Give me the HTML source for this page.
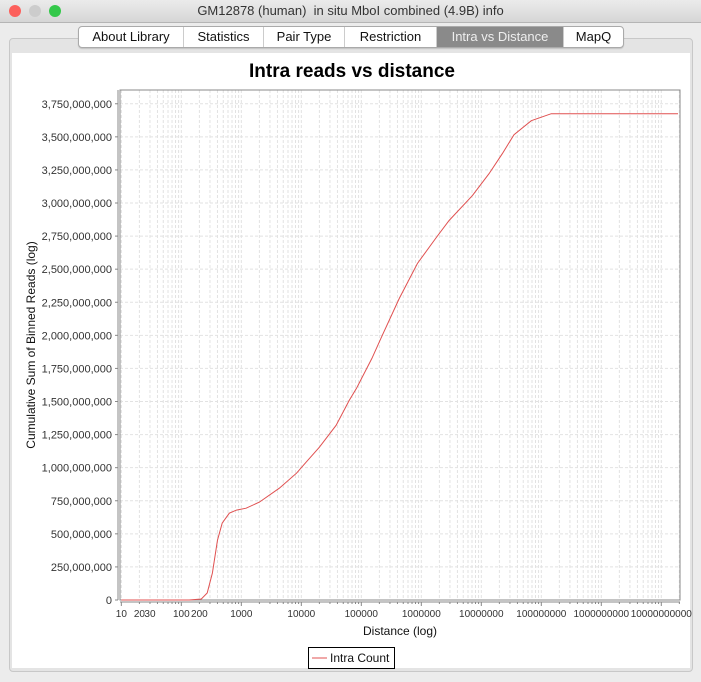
<!DOCTYPE html>
<html><head><meta charset="utf-8">
<style>
body{margin:0;width:701px;height:682px;background:#ececec;font-family:"Liberation Sans",sans-serif;position:relative;overflow:hidden}
.titlebar{position:absolute;left:0;top:0;width:701px;height:22px;background:linear-gradient(#ebebeb,#d6d6d6);border-bottom:1px solid #b5b5b5;text-align:center;font-size:13px;line-height:22px;color:#333}
.dot{position:absolute;top:5px;width:12px;height:12px;border-radius:50%}
.panel{position:absolute;left:9px;top:38px;width:682px;height:632px;border:1px solid #c8c8c8;border-radius:4px;background:#e4e4e4}
.white{position:absolute;left:12px;top:53px;width:678px;height:615px;background:#fff}
.tabs{position:absolute;left:78px;top:26px;height:20px;width:544px;display:flex;border:1px solid #aaa;border-radius:4px;background:#fff;font-size:13px;box-shadow:0 1px 1px rgba(0,0,0,.15)}
.tab{flex:none;text-align:center;line-height:20px;border-right:1px solid #ccc;color:#111;box-sizing:border-box}
.tab.sel{background:#8a8a8a;color:#eee}
</style></head><body>
<div class="titlebar">GM12878 (human)&nbsp; in situ MboI combined (4.9B) info</div>
<div class="dot" style="left:9px;background:#fc605c"></div>
<div class="dot" style="left:29px;background:#ccc"></div>
<div class="dot" style="left:49px;background:#34c84a"></div>
<div class="panel"></div>
<div class="white"></div>
<div class="tabs">
<div class="tab" style="width:105px">About Library</div>
<div class="tab" style="width:80px">Statistics</div>
<div class="tab" style="width:81px">Pair Type</div>
<div class="tab" style="width:92px">Restriction</div>
<div class="tab sel" style="width:127px">Intra vs Distance</div>
<div class="tab" style="border-right:none;flex:auto">MapQ</div>
</div>
<svg id="chart" width="701" height="682" style="position:absolute;left:0;top:0"></svg>
<script>
const distances=[10,135,215,270,330,400,480,630,830,1200,2000,4300,8300,12000,20000,38000,63000,83000,150000,224000,430000,860000,1780000,2900000,7100000,13500000,22400000,35000000,68000000,147000000,19000000000];
const reads=[0,0,7.5e6,53e6,204e6,453e6,581e6,656e6,679e6,694e6,740e6,845e6,958e6,1041e6,1155e6,1320e6,1509e6,1600e6,1826e6,2000e6,2279e6,2543e6,2739e6,2868e6,3056e6,3222e6,3373e6,3516e6,3622e6,3675e6,3675e6];
const xTickValues=[10,20,30,100,200,1000,10000,100000,1000000,10000000,100000000,1000000000,10000000000];
const yTickValues=[0,250e6,500e6,750e6,1000e6,1250e6,1500e6,1750e6,2000e6,2250e6,2500e6,2750e6,3000e6,3250e6,3500e6,3750e6];
const svg=document.getElementById('chart');const NS='http://www.w3.org/2000/svg';
const L=120,R=680,T=90,B=600;
const lx0=Math.log10(9.5),lx1=Math.log10(2.05e10);
const X=v=>L+(Math.log10(v)-lx0)/(lx1-lx0)*(R-L);
const Y=v=>B-v/3.854e9*(B-T);
function mk(tag,a,txt){const e=document.createElementNS(NS,tag);for(const k in a)e.setAttribute(k,a[k]);if(txt!=null)e.textContent=txt;svg.appendChild(e);return e;}
let e;
e=mk('text',{x:352,y:77,'text-anchor':'middle','font-size':19,'font-weight':'bold',fill:'#000'},'Intra reads vs distance');


for(let d=1;d<=10;d++){for(let m=1;m<=9;m++){const v=m*Math.pow(10,d);if(v<10||v>2.05e10)continue;const x=X(v);
e=mk('line',{x1:x,x2:x,y1:T,y2:B,stroke:'#e2e2e2','stroke-dasharray':'3,2','stroke-width':1});


e=mk('line',{x1:x,x2:x,y1:B+2,y2:B+(m==1?6:4),stroke:'#888'});

}}
yTickValues.forEach(v=>{const y=Y(v);
e=mk('line',{x1:L,x2:R,y1:y,y2:y,stroke:'#e2e2e2','stroke-dasharray':'3,2'});


e=mk('line',{x1:L-5,x2:L-2,y1:y,y2:y,stroke:'#888'});


e=mk('text',{x:L-8,y:y+4,'text-anchor':'end','font-size':11,fill:'#333'},v.toLocaleString('en-US'));

});
xTickValues.forEach(v=>{
e=mk('text',{x:X(v),y:B+17,'text-anchor':'middle','font-size':10,fill:'#333'},String(v));

});
e=mk('rect',{x:L,y:T,width:R-L,height:B-T,fill:'none',stroke:'#888'});


e=mk('line',{x1:L,x2:R,y1:B+2,y2:B+2,stroke:'#888'});


e=mk('line',{x1:L-2,x2:L-2,y1:T,y2:B,stroke:'#888'});


const pts=distances.map((d,i)=>X(d).toFixed(1)+','+Y(reads[i]).toFixed(1)).join(' ');
e=mk('polyline',{points:pts,fill:'none',stroke:'#e05050','stroke-width':1});


e=mk('text',{x:400,y:635,'text-anchor':'middle','font-size':12,fill:'#111'},'Distance (log)');


e=mk('text',{x:35,y:345,'text-anchor':'middle','font-size':12,fill:'#111',transform:'rotate(-90 35 345)'},'Cumulative Sum of Binned Reads (log)');


e=mk('rect',{x:308.5,y:647.5,width:86,height:21,fill:'#fff',stroke:'#000'});


e=mk('line',{x1:312,x2:327,y1:658,y2:658,stroke:'#e05050'});


e=mk('text',{x:330,y:662,'font-size':12,fill:'#111'},'Intra Count');


</script>
</body></html>
